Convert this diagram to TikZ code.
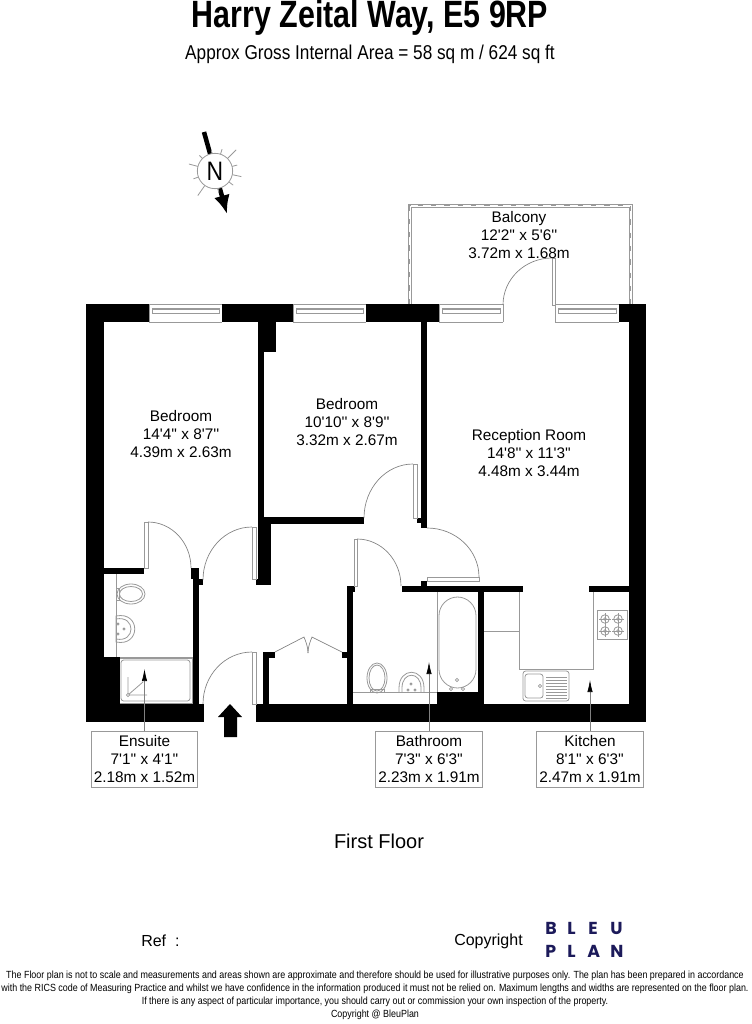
\documentclass[tikz,border=0pt]{standalone}
\usepackage{fontspec}
\setmainfont[Ligatures=TeXOff]{Liberation Sans}
\newfontfamily\titlefont[FakeStretch=0.8]{Liberation Sans}
\newfontfamily\narrowfont[FakeStretch=0.86]{Liberation Sans}
\newfontfamily\logofont{Poppins}
\usepackage{tikz}
\usetikzlibrary{arrows.meta}
\definecolor{linegrey}{gray}{0.6}
\definecolor{logoblue}{RGB}{28,26,90}
\tikzset{
  wall/.style={fill=black},
  thinline/.style={draw=linegrey, line width=0.6pt},
  doorleaf/.style={draw=linegrey, fill=white, line width=0.6pt},
  swing/.style={draw=gray, line width=0.5pt},
  roomtext/.style={align=center, font=\fontsize{11.5}{13.6}\selectfont, inner sep=0pt},
  labelbox/.style={draw=linegrey, line width=0.6pt, align=center, minimum width=80pt, minimum height=42pt, inner sep=0pt, font=\fontsize{11.5}{13.6}\selectfont},
  leader/.style={draw=gray, line width=0.5pt, -{Latex[length=9pt,width=4pt,black]}},
  logoletter/.style={inner sep=0pt, anchor=base west, text=logoblue, font=\logofont\bfseries\fontsize{13}{14}\selectfont},
  finetext/.style={font=\narrowfont\fontsize{7.78}{9.75}\selectfont, align=center, inner sep=0pt}
}
\begin{document}
\begin{tikzpicture}[x=0.75pt, y=-0.75pt]
  \useasboundingbox (0,0) rectangle (752,1024);
  % Title
  \node[inner sep=0pt, anchor=base] (title) at (370,28) {\titlefont\bfseries\fontsize{28.5}{30}\selectfont Harry Zeital Way, E5 9RP};
  \node[inner sep=0pt, anchor=base] (area) at (370,60) {\narrowfont\fontsize{15}{18}\selectfont Approx Gross Internal Area = 58 sq m / 624 sq ft};
  % Compass
  \coordinate (ntail) at (204,132);
  \coordinate (nhead) at (227,214);
  \draw[line width=3.4pt, -{Latex[length=14pt,width=12pt]}] (ntail) -- (nhead);
  \foreach \ang/\rout in {165/27, 135/22, 100/21, 72/23, 45/30, 15/23, -12/27, -38/23, -80/22, -125/30, -160/23} {
    \draw[thinline] (215,171) ++(-\ang:17.5) -- ++(-\ang:\rout-17.5);
  }
  \node[circle, draw=linegrey, fill=white, line width=0.6pt, minimum size=26.5pt, inner sep=0pt, font=\narrowfont\fontsize{20}{20}\selectfont] (north) at (215,171) {N};
  % Balcony
  \draw[thinline] (408,304) -- (408,204) -- (632,204) -- (632,304);
  \draw[thinline] (411,304) -- (411,207) -- (629,207) -- (629,304);
  \draw[thinline, dash pattern=on 4pt off 6pt] (409.5,304) -- (409.5,205.5) -- (630.5,205.5) -- (630.5,304);
  % Windows
  \foreach \xa/\xb in {149/222, 293/366, 439/503, 555/619} {
    \draw[thinline] (\xa,304) -- (\xb,304) (\xa,322) -- (\xb,322) (\xa,304) -- (\xa,322) (\xb,304) -- (\xb,322);
    \draw[thinline] (\xa+3,308) rectangle (\xb-3,313);
    \draw[thinline] (\xa+3,309.5) -- (\xb-3,309.5);
  }
  % Fittings
  \draw[thinline] (116,574) -- (116,657) (104,657) -- (193,657);
  \draw[thinline] (119,658) rectangle (192,703);
  \draw[thinline, rounded corners=2pt] (121,660) rectangle (190,701);
  \draw[thinline] (128,677) -- (128,695) -- (147,695) (128,695) -- (143,682);
  \draw[thinline, fill=white] (128,695) circle (1.2pt);
  \draw[thinline] (116,588) rectangle (119.5,600);
  \draw[thinline] (131,594) ellipse [x radius=14, y radius=10];
  \draw[thinline] (131,594) ellipse [x radius=11.5, y radius=7.5];
  \draw[thinline] (116,616) .. controls (141,611) and (141,647) .. (116,642) -- cycle;
  \draw[thinline] (116,619) .. controls (136,615) and (136,643) .. (116,639);
  \foreach \cx/\cy in {124/629, 118/624, 118/634} {
    \draw[thinline] (\cx,\cy) circle (0.8pt);
  }
  \draw[thinline] (352,692) -- (437,692);
  \draw[thinline] (437,592) -- (437,692) -- (478,692);
  \draw[thinline, rounded corners=14pt] (439,597) rectangle (476,688);
  \foreach \cx/\cy in {457/680, 451/689, 463/689} {
    \draw[thinline] (\cx,\cy) circle (1.2pt);
  }
  \draw[thinline] (377,678) ellipse [x radius=10, y radius=15];
  \draw[thinline] (377,678) ellipse [x radius=8, y radius=13];
  \draw[thinline] (370,689) rectangle (384,692);
  \draw[thinline] (399,692) -- (399,688) .. controls (399,667) and (424,667) .. (424,688) -- (424,692);
  \draw[thinline] (402,692) -- (402,688) .. controls (402,671) and (421,671) .. (421,688) -- (421,692);
  \foreach \cx/\cy in {411/684, 408/690, 415/690} {
    \draw[thinline] (\cx,\cy) circle (0.8pt);
  }
  \draw[thinline] (519,592) -- (519,669) -- (593,669) -- (593,592) (484,631) -- (519,631);
  \draw[thinline] (597,610) rectangle (627,639);
  \foreach \cx in {605,618} {
    \foreach \cy in {619,631} {
      \draw[thinline] (\cx,\cy) circle (3.2pt);
      \draw[thinline] (\cx,\cy) circle (1pt);
      \draw[thinline] (\cx-6,\cy) -- (\cx+6,\cy) (\cx,\cy-6) -- (\cx,\cy+6);
    }
  }
  \draw[thinline, rounded corners=2pt] (523,671) rectangle (569,701);
  \draw[thinline, rounded corners=2pt] (525,674) rectangle (543,698);
  \draw[thinline] (540,686) circle (1.2pt);
  \foreach \cy in {677,680,...,698} {
    \draw[thinline] (546,\cy) -- (567,\cy);
  }
  % Walls
  \foreach \xa/\ya/\xb/\yb in {
    86/304/149/322, 222/304/293/322, 366/304/439/322, 619/304/646/322,
    86/304/104/722, 629/304/646/722,
    86/704/204/722, 256/704/646/722,
    104/657/119.5/704, 437/692/478/704,
    258/322/276/352, 258/352/264/524, 264/517/364/524, 258/524/271/579, 256/579/271/585,
    104/568/144/574, 191/568/199/579, 193/579/199/704, 199/579/203/585,
    263/652/269/704, 263/652/275/658, 342/652/347/658,
    347/586/353/704, 347/586/355/592,
    421/322/427/528, 417/518/427/523,
    402/586/523/592, 421/581/427/586, 589/586/629/592, 478/592/484/704} {
    \fill[wall] (\xa,\ya) rectangle (\xb,\yb);
  }
  % Doors
  \foreach \xa/\ya/\xb/\yb in {144/522/148/568, 252/527/256/579, 252/652/256/704, 354/539/357/586, 427/577/479/581, 413/464/417/518, 552/258/555/305} {
    \draw[doorleaf] (\xa,\ya) rectangle (\xb,\yb);
  }
  \draw[swing] (148,522) arc [start angle=270, end angle=360, x radius=43, y radius=46];
  \draw[swing] (252,527) arc [start angle=270, end angle=180, x radius=49, y radius=53];
  \draw[swing] (252,652) arc [start angle=270, end angle=180, x radius=49, y radius=52];
  \draw[swing] (357,539) arc [start angle=270, end angle=360, x radius=44, y radius=47];
  \draw[swing] (427,528) arc [start angle=270, end angle=360, x radius=52, y radius=49];
  \draw[swing] (413,464) arc [start angle=270, end angle=180, x radius=49, y radius=54];
  \draw[swing] (552,258) arc [start angle=270, end angle=180, x radius=49, y radius=47];
  % Cupboard doors
  \draw[swing] (275,652) -- (304,637) .. controls (306,642) and (308,647) .. (308,653);
  \draw[swing] (342,652) -- (312,637) .. controls (310,642) and (308,647) .. (308,653);
  % Entrance arrow
  \fill[black] (230,704) -- (242,717) -- (237,717) -- (237,737) -- (224,737) -- (224,717) -- (218,717) -- cycle;
  % Room labels
  \node[roomtext] (balconytext) at (519,235) {Balcony\\12'2'' x 5'6''\\3.72m x 1.68m};
  \node[roomtext] (bedroomone) at (181,434) {Bedroom\\14'4'' x 8'7''\\4.39m x 2.63m};
  \node[roomtext] (bedroomtwo) at (347,422) {Bedroom\\10'10'' x 8'9''\\3.32m x 2.67m};
  \node[roomtext] (reception) at (529,453) {Reception Room\\14'8'' x 11'3''\\4.48m x 3.44m};
  % Boxed labels
  \node[labelbox] (ensuite) at (144.5,759) {Ensuite\\7'1'' x 4'1''\\2.18m x 1.52m};
  \node[labelbox] (bathroom) at (429,759) {Bathroom\\7'3'' x 6'3''\\2.23m x 1.91m};
  \node[labelbox] (kitchen) at (590,759) {Kitchen\\8'1'' x 6'3''\\2.47m x 1.91m};
  \coordinate (ensuitetip) at (144.5,669);
  \coordinate (bathroomtip) at (429,662);
  \coordinate (kitchentip) at (590,680);
  \draw[leader] (ensuite.north) -- (ensuitetip);
  \draw[leader] (bathroom.north) -- (bathroomtip);
  \draw[leader] (kitchen.north) -- (kitchentip);
  % Foot of the page
  \node[inner sep=0pt, font=\fontsize{15}{18}\selectfont] (floor) at (379,841) {First Floor};
  \node[inner sep=0pt, font=\fontsize{12}{14}\selectfont, anchor=west] (ref) at (141,941) {Ref\ \ :};
  \node[inner sep=0pt, font=\fontsize{12}{14}\selectfont, anchor=west] (copyright) at (454,941) {Copyright};
  \foreach \ch/\cx in {B/545, L/567, E/588, U/610} {
    \node[logoletter] (bleu\ch) at (\cx,934) {\ch};
  }
  \foreach \ch/\cx in {P/545, L/567, A/587, N/610} {
    \node[logoletter] (plan\ch) at (\cx,957.5) {\ch};
  }
  \node[finetext] (notes) at (375,995.5) {The Floor plan is not to scale and measurements and areas shown are approximate and therefore should be used for illustrative purposes only. The plan has been prepared in accordance\\with the RICS code of Measuring Practice and whilst we have confidence in the information produced it must not be relied on. Maximum lengths and widths are represented on the floor plan.\\If there is any aspect of particular importance, you should carry out or commission your own inspection of the property.\\Copyright @ BleuPlan};
\end{tikzpicture}
\end{document}
